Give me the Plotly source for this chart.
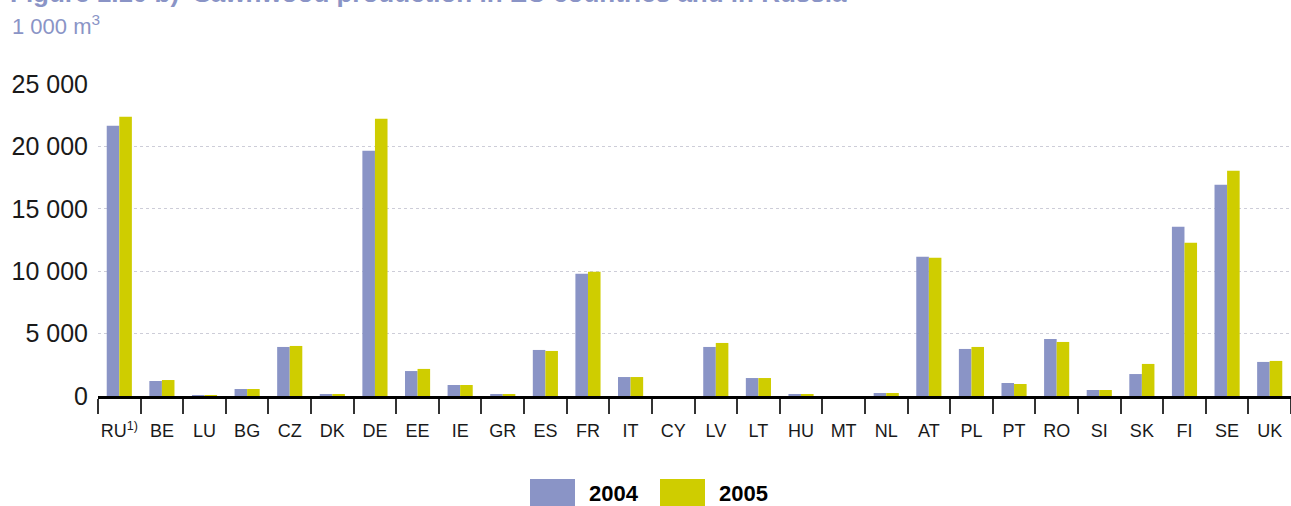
import plotly.graph_objects as go

# sawnwood production, 1 000 m3
countries = ['RU<sup>1)</sup>', 'BE', 'LU', 'BG', 'CZ', 'DK', 'DE', 'EE', 'IE', 'GR',
             'ES', 'FR', 'IT', 'CY', 'LV', 'LT', 'HU', 'MT', 'NL', 'AT',
             'PL', 'PT', 'RO', 'SI', 'SK', 'FI', 'SE', 'UK']
prod_2004 = [21650, 1200, 80, 560, 3930, 160, 19650, 2000, 880, 160,
             3690, 9790, 1520, 0, 3930, 1440, 160, 0, 240, 11150,
             3770, 1040, 4570, 480, 1760, 13560, 16930, 2730]
prod_2005 = [22370, 1280, 80, 560, 4010, 160, 22220, 2170, 880, 160,
             3610, 9950, 1520, 0, 4250, 1440, 160, 0, 240, 11070,
             3930, 960, 4330, 480, 2570, 12270, 18050, 2810]
y_ticks = [0, 5000, 10000, 15000, 20000, 25000]

col_2004 = '#8a94c6'
col_2005 = '#cfcd00'
title_col = '#8a94c6'
font = 'Liberation Sans, Arial, sans-serif'

W, H = 1291, 506
ML, MR, MT, MB = 98, 0, 84, 110


def px_x(x):
    return (x - ML) / (W - ML - MR)


def px_y(y):
    return (H - MB - y) / (H - MT - MB)


fig = go.Figure()
fig.add_trace(go.Bar(name='2004', x=countries, y=prod_2004,
                     marker_color=col_2004, marker_line_width=0))
fig.add_trace(go.Bar(name='2005', x=countries, y=prod_2005,
                     marker_color=col_2005, marker_line_width=0))

fig.update_xaxes(
    tickson='boundaries', ticks='outside', ticklen=15, tickwidth=1.5,
    tickcolor='#333333', showline=True, linecolor='#000000', linewidth=2.5,
    tickfont=dict(family=font, size=18, color='#1a1a1a'), tickangle=0,
    ticklabelstandoff=17,
    showgrid=False, automargin=False,
)
fig.update_yaxes(
    range=[0, 25000], tickvals=y_ticks, tickformat=',d',
    showgrid=True, gridcolor='#cdcdd8', griddash='3px,3px', gridwidth=1,
    zeroline=False, showline=False, ticks='', automargin=False,
    ticklabelstandoff=9,
    tickfont=dict(family=font, size=25, color='#1a1a1a'),
)

# legend drawn as large swatches like the original
legend_items = [('2004', col_2004, 530), ('2005', col_2005, 660)]
shapes = []
annotations = []
for name, col, x0 in legend_items:
    shapes.append(dict(type='rect', xref='paper', yref='paper',
                       x0=px_x(x0), x1=px_x(x0 + 45), y0=px_y(479), y1=px_y(506),
                       fillcolor=col, line_width=0))
    annotations.append(dict(text=f'<b>{name}</b>', xref='paper', yref='paper',
                            x=px_x(x0 + 57), y=px_y(493), xanchor='left', yanchor='middle',
                            showarrow=False, font=dict(family=font, size=22, color='#000000')))

annotations.append(dict(text='<b>Figure 1.10 b)  Sawnwood production in EU countries and in Russia</b>',
                        xref='paper', yref='paper', x=px_x(8), y=px_y(-7),
                        xanchor='left', yanchor='middle', showarrow=False,
                        font=dict(family=font, size=26, color=title_col)))
annotations.append(dict(text='1 000 m<sup>3</sup>', xref='paper', yref='paper',
                        x=px_x(10), y=px_y(25), xanchor='left', yanchor='middle',
                        showarrow=False, font=dict(family=font, size=22, color=title_col)))

fig.update_layout(
    width=W, height=H,
    margin=dict(l=ML, r=MR, t=MT, b=MB),
    barmode='group', bargap=0.41, bargroupgap=0,
    showlegend=False,
    separators=', ',
    plot_bgcolor='white', paper_bgcolor='white',
    font=dict(family=font),
    shapes=shapes, annotations=annotations,
)

# drop the page's default body margin so the figure sits at the window's corner
fig.write_html('out.html', config={'displayModeBar': False},
               post_script="document.body.style.margin='0';")
